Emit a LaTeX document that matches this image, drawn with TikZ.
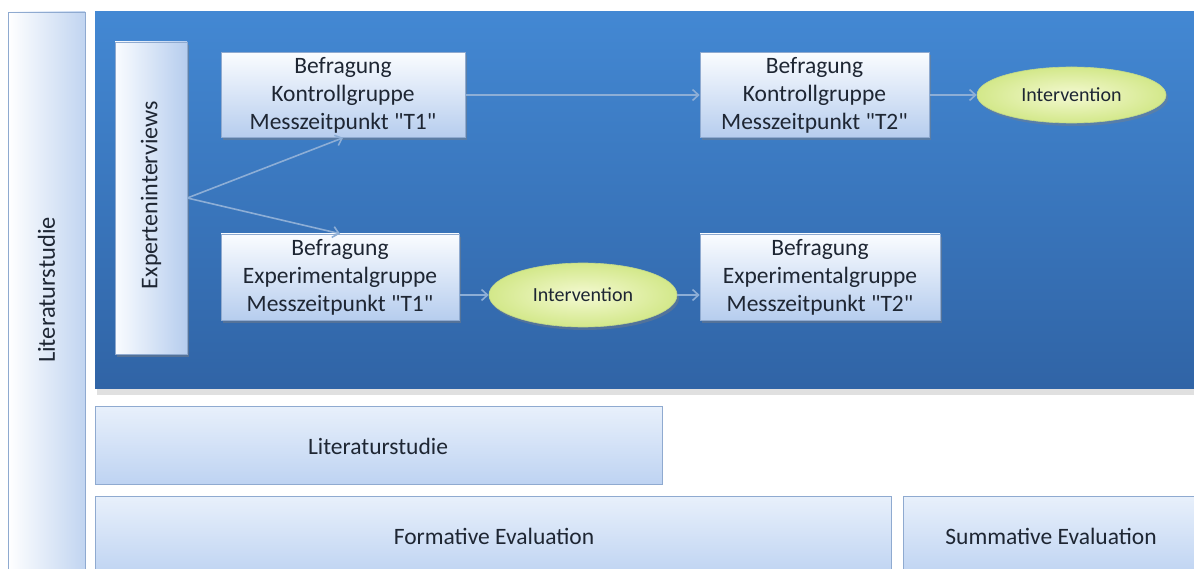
\documentclass[tikz,border=0pt]{standalone}
\usepackage{fontspec}
\setmainfont{Carlito}
\usetikzlibrary{arrows.meta,shadows,shapes.geometric}
\definecolor{panelTop}{HTML}{4388D3}
\definecolor{panelBot}{HTML}{3064A6}
\definecolor{boxTop}{HTML}{FAFCFF}
\definecolor{boxBot}{HTML}{B6CDEE}
\definecolor{boxLine}{HTML}{8FAAD0}
\definecolor{lowTop}{HTML}{E8F0FB}
\definecolor{lowBot}{HTML}{BED3F2}
\definecolor{ellIn}{HTML}{F4F9D2}
\definecolor{ellOut}{HTML}{D3E88A}
\definecolor{ellLine}{HTML}{C2D88A}
\definecolor{arrowCol}{HTML}{8DAED6}
\definecolor{txt}{HTML}{1E2633}
\newcommand{\qt}{\textquotedbl}
\tikzset{
  stepbox/.style={rectangle, draw=boxLine, line width=0.6pt, top color=boxTop, bottom color=boxBot,
    inner sep=0pt, align=center, text=txt, font=\fontsize{23.5}{28}\selectfont,
    drop shadow={shadow xshift=2pt, shadow yshift=-3pt, opacity=0.45}},
  lowbox/.style={rectangle, draw=boxLine, line width=0.6pt, top color=lowTop, bottom color=lowBot,
    inner sep=0pt, align=center, text=txt},
  lowtext/.style={text=txt, font=\fontsize{23.5}{28}\selectfont},
  interv/.style={ellipse, draw=ellLine, line width=0.6pt, inner color=ellIn, outer color=ellOut,
    inner sep=0pt, text=txt, font=\fontsize{20}{24}\selectfont,
    drop shadow={shadow xshift=2pt, shadow yshift=-3pt, opacity=0.4}},
  flow/.style={draw=arrowCol, line width=1.6pt, -{Straight Barb[length=6pt,width=11pt]}},
}
\begin{document}
\begin{tikzpicture}[x=1pt,y=-1pt]
\useasboundingbox (0,0) rectangle (1194,569);
\clip (0,0) rectangle (1194,569);
\fill[white] (0,0) rectangle (1194,569);

% left column
\node[rectangle, draw=boxLine, line width=0.6pt, left color=white, right color=boxBot!85,
      minimum width=77pt, minimum height=565pt, inner sep=0pt] (lit) at (46.5,294.5) {};
\node[rotate=90, lowtext, font=\fontsize{24.5}{28}\selectfont] (littxt) at (46.5,290) {Literaturstudie};

% blue panel with its shadow
\fill[black, opacity=0.12] (97,389) rectangle (1200,395);
\node[rectangle, top color=panelTop, bottom color=panelBot, minimum width=1110pt, minimum height=376pt,
      inner sep=0pt] (panel) at (650,200) {};

% experts column
\node[rectangle, draw=boxLine, line width=0.6pt, left color=boxTop, right color=boxBot,
      minimum width=72pt, minimum height=312pt, inner sep=0pt,
      drop shadow={shadow xshift=2pt, shadow yshift=-3pt, opacity=0.45}] (ex) at (151,198) {};
\node[rotate=90, lowtext, font=\fontsize{24}{28}\selectfont] (extxt) at (151,195) {Experteninterviews};

% survey boxes
\node[stepbox, minimum width=244pt, minimum height=85pt] (k1) at (343,95)
  {Befragung\\Kontrollgruppe\\Messzeitpunkt \qt T1\qt};
\node[stepbox, minimum width=229pt, minimum height=85pt] (k2) at (814.5,95)
  {Befragung\\Kontrollgruppe\\Messzeitpunkt \qt T2\qt};
\node[stepbox, minimum width=238pt, minimum height=86pt] (e1) at (340,277)
  {Befragung\\Experimentalgruppe\\Messzeitpunkt \qt T1\qt};
\node[stepbox, minimum width=240pt, minimum height=86pt] (e2) at (820,277)
  {Befragung\\Experimentalgruppe\\Messzeitpunkt \qt T2\qt};

% interventions
\node[interv, minimum width=189pt, minimum height=56pt] (i1) at (1071.5,95) {Intervention};
\node[interv, minimum width=188pt, minimum height=64pt] (i2) at (583,295) {Intervention};

% connectors
\draw[flow] (ex.east) -- (k1.south);
\draw[flow] (ex.east) -- (e1.north);
\draw[flow] (k1.east) -- (k2.west);
\draw[flow] (k2.east) -- (i1.west);
\draw[flow] (e1.east |- i2.west) -- (i2.west);
\draw[flow] (i2.east) -- (e2.west |- i2.east);

% lower bars
\node[lowbox, minimum width=567pt, minimum height=78pt] (lit2) at (378.5,445) {};
\node[lowtext] (lit2txt) at (378,446) {Literaturstudie};
\node[lowbox, minimum width=796pt, minimum height=80pt] (form) at (493,536) {};
\node[lowtext] (formtxt) at (494,536) {Formative Evaluation};
\node[lowbox, minimum width=300pt, minimum height=80pt] (summ) at (1053,536) {};
\node[lowtext] (summtxt) at (1051,536) {Summative Evaluation};
\end{tikzpicture}
\end{document}
